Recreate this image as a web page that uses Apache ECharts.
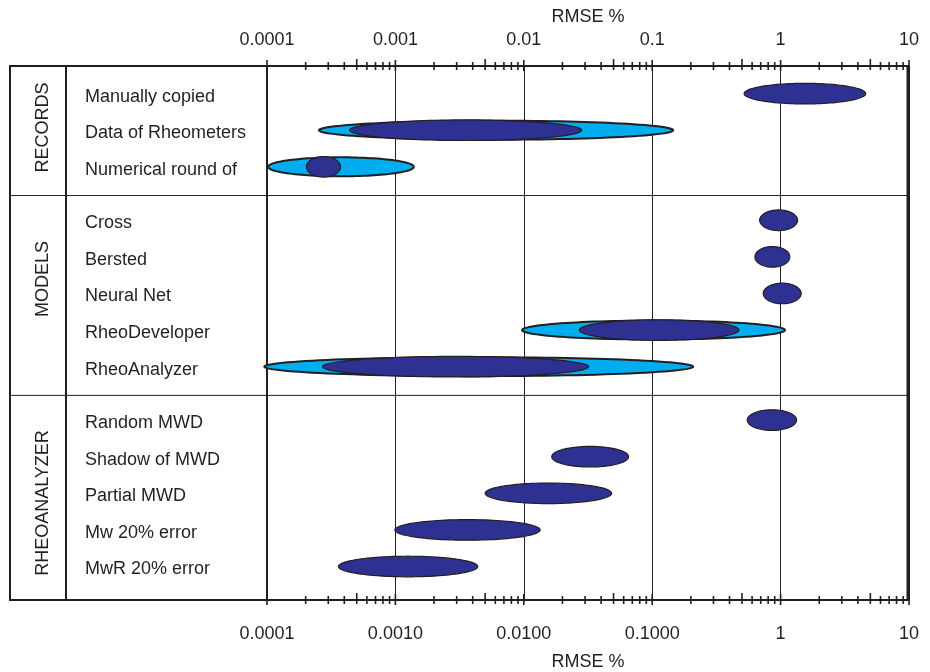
<!DOCTYPE html>
<html><head><meta charset="utf-8">
<script src="https://cdn.jsdelivr.net/npm/echarts@6/dist/echarts.min.js"></script>
<style>html,body{margin:0;padding:0;background:#fff}#c{width:930px;height:672px}</style>
</head><body><div id="c"></div>
<script>
// ---------- data ----------
const categories = ['Manually copied','Data of Rheometers','Numerical round of','Cross','Bersted','Neural Net','RheoDeveloper','RheoAnalyzer','Random MWD','Shadow of MWD','Partial MWD','Mw 20% error','MwR 20% error'];
const groupIndex = [0,0,0,1,1,1,1,1,2,2,2,2,2];
const groupNames = ['RECORDS','MODELS','RHEOANALYZER'];
// dark (core) range of RMSE %
const coreLow  = [0.52, 0.00044, 0.000203, 0.687, 0.631, 0.733, 0.0271, 0.000271, 0.55, 0.0165, 0.0050, 0.00099, 0.00036];
const coreHigh = [4.6, 0.0282, 0.000374, 1.356, 1.18, 1.446, 0.474, 0.032, 1.332, 0.0654, 0.0483, 0.0134, 0.00438];
// light (wide) range of RMSE %
const wideLow  = [null, 0.000254, 0.000102, null, null, null, 0.0097, 0.0000953, null, null, null, null, null];
const wideHigh = [null, 0.1456, 0.00139, null, null, null, 1.081, 0.2083, null, null, null, null, null];
const topTickLabels = ['0.0001','0.001','0.01','0.1','1','10'];
const bottomTickLabels = ['0.0001','0.0010','0.0100','0.1000','1','10'];
const decades = [0.0001, 0.001, 0.01, 0.1, 1, 10];
const minorMantissas = [2,3,4,5,6,7,8,9];
const axisTitle = 'RMSE %';

// ---------- layout ----------
const GROUP_GAP = 0.46;
const Y_MIN = -0.809, Y_MAX = 13.78;
const INK = '#231F20', DARK = '#2E3192', LIGHT = '#00AEEF';
const FONT = '"Liberation Sans", Arial, sans-serif';
function rowPos(i){ return i + GROUP_GAP * groupIndex[i]; }

const coreData = categories.map((c,i)=>[coreLow[i], coreHigh[i], rowPos(i), i]);
const wideData = categories.map((c,i)=>[wideLow[i], wideHigh[i], rowPos(i), i]).filter(d=>d[0]!=null);
const labelData = categories.map((c,i)=>[decades[0], rowPos(i), i]);
const sepData = [];
for (let i=1;i<categories.length;i++) if (groupIndex[i]!==groupIndex[i-1]) sepData.push([decades[0], (rowPos(i)+rowPos(i-1))/2]);
const tickData = [];
decades.forEach((d,k)=>{ tickData.push([d,0,1]); if (k<decades.length-1) minorMantissas.forEach(m=>tickData.push([m*d,0,m])); });

function labelIndex(v){ return Math.round(Math.log10(v)) + 4; }

function ellipseRenderer(ry, fill, lw){
  return function(params, api){
    const a = api.coord([api.value(0), api.value(2)]);
    const b = api.coord([api.value(1), api.value(2)]);
    const cx = (a[0]+b[0])/2, rx = Math.abs(b[0]-a[0])/2, cy = a[1]-2;
    const pts = [];
    for (let k=0;k<120;k++){ const t=2*Math.PI*k/120; pts.push([cx+rx*Math.cos(t), cy+ry*Math.sin(t)]); }
    return {type:'polygon', shape:{points:pts}, style:{fill:fill, stroke:INK, lineWidth:lw}};
  };
}

const chart = echarts.init(document.getElementById('c'), null, {renderer:'canvas'});
chart.setOption({
  animation:false,
  backgroundColor:'#fff',
  grid:{left:267, right:21, top:66, bottom:72, containLabel:false, outerBoundsMode:'none'},
  xAxis:[
    {type:'log', logBase:10, min:0.0001, max:10, position:'bottom',
     axisLine:{show:true, onZero:false, lineStyle:{color:INK, width:2}}, axisTick:{show:false}, minorTick:{show:false},
     splitLine:{show:true, lineStyle:{color:INK, width:1}},
     axisLabel:{margin:25, color:INK, fontSize:18, fontFamily:FONT, formatter:v=>bottomTickLabels[labelIndex(v)]},
     name:axisTitle, nameLocation:'middle', nameGap:53, nameTextStyle:{color:INK, fontSize:18, fontFamily:FONT}},
    {type:'log', logBase:10, min:0.0001, max:10, position:'top',
     axisLine:{show:true, onZero:false, lineStyle:{color:INK, width:2}}, axisTick:{show:false}, minorTick:{show:false},
     splitLine:{show:false},
     axisLabel:{margin:17, color:INK, fontSize:18, fontFamily:FONT, formatter:v=>topTickLabels[labelIndex(v)]},
     name:axisTitle, nameLocation:'middle', nameGap:39, nameTextStyle:{color:INK, fontSize:18, fontFamily:FONT}}
  ],
  yAxis:{type:'value', inverse:true, min:Y_MIN, max:Y_MAX,
    axisLine:{show:true, onZero:false, lineStyle:{color:INK, width:2}}, axisTick:{show:false}, axisLabel:{show:false}, splitLine:{show:false}},
  graphic:[
    {type:'rect', shape:{x:10, y:66, width:898, height:534}, style:{fill:'none', stroke:INK, lineWidth:2}, z:50},
    {type:'line', shape:{x1:908, y1:66, x2:908, y2:600}, style:{stroke:INK, lineWidth:3}, z:50},
    {type:'line', shape:{x1:66, y1:66, x2:66, y2:600}, style:{stroke:INK, lineWidth:2}, z:50},
    {type:'text', x:43.5, y:127.5, rotation:Math.PI/2, style:{text:groupNames[0], font:'18px '+FONT, fill:INK, align:'center', verticalAlign:'middle'}, z:50},
    {type:'text', x:43.5, y:279, rotation:Math.PI/2, style:{text:groupNames[1], font:'18px '+FONT, fill:INK, align:'center', verticalAlign:'middle'}, z:50},
    {type:'text', x:43.5, y:503, rotation:Math.PI/2, style:{text:groupNames[2], font:'18px '+FONT, fill:INK, align:'center', verticalAlign:'middle'}, z:50}
  ],
  series:[
    {type:'custom', name:'wide', clip:false, data:wideData, encode:{x:[0,1], y:2}, z:3,
     renderItem:ellipseRenderer(9.5, LIGHT, 2)},
    {type:'custom', name:'core', clip:false, data:coreData, encode:{x:[0,1], y:2}, z:4,
     renderItem:ellipseRenderer(10.3, DARK, 1.2)},
    {type:'custom', name:'labels', clip:false, data:labelData, encode:{x:0, y:1}, z:5,
     renderItem:function(params, api){
       const p = api.coord([api.value(0), api.value(1)]);
       return {type:'text', x:params.coordSys.x-182, y:p[1]+1,
         style:{text:categories[api.value(2)], font:'18px '+FONT, fill:INK, align:'left', verticalAlign:'middle'}};
     }},
    {type:'custom', name:'separators', clip:false, data:sepData, encode:{x:0, y:1}, z:5,
     renderItem:function(params, api){
       const p = api.coord([api.value(0), api.value(1)]);
       const cs = params.coordSys;
       return {type:'line', shape:{x1:cs.x-257, y1:p[1], x2:cs.x+cs.width-1, y2:p[1]}, style:{stroke:INK, lineWidth:1}};
     }},
    {type:'custom', name:'ticks', clip:false, data:tickData, encode:{x:0, y:1}, z:6,
     renderItem:function(params, api){
       const x = api.coord([api.value(0), 0])[0];
       const cs = params.coordSys;
       const m = api.value(2);
       const up = m===1 ? 6 : (m===5 ? 7 : 4), down = m===1 ? 5 : 4;
       const els = [cs.y, cs.y+cs.height].map(y=>({type:'line', shape:{x1:x, y1:y-up, x2:x, y2:y+down}, style:{stroke:INK, lineWidth:1.6}}));
       return {type:'group', children:els};
     }}
  ]
});
</script></body></html>
